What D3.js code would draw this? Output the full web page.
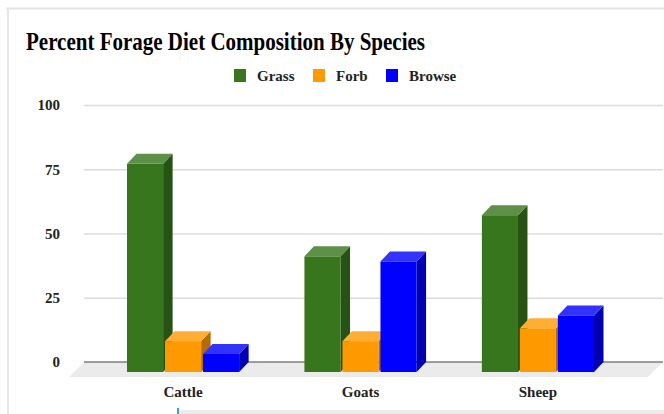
<!DOCTYPE html>
<html>
<head>
<meta charset="utf-8">
<script src="https://cdnjs.cloudflare.com/ajax/libs/d3/7.8.5/d3.min.js"></script>
<style>
  body { margin: 0; background: #fff; }
  svg { display: block; }
  text { font-family: "Liberation Serif", "DejaVu Serif", serif; font-weight: bold; fill: #222; }
</style>
</head>
<body>
<script>
// data
var categories = ["Cattle", "Goats", "Sheep"];
var seriesNames = ["Grass", "Forb", "Browse"];
var grass = [81, 45, 61];
var forb = [12, 12, 17];
var browse = [7, 43, 22];
var yTicks = [0, 25, 50, 75, 100];

var values = [grass, forb, browse];
var colors = {
  Grass:  {front: "#38761d", top: "#5e9048", side: "#265214"},
  Forb:   {front: "#ff9900", top: "#ffad33", side: "#b36b00"},
  Browse: {front: "#0000ff", top: "#3333ff", side: "#0000b0"}
};

var W = 664, H = 414;
var svg = d3.select("body").append("svg")
    .attr("width", W)
    .attr("height", H);

// page frame
svg.append("line").attr("x1", 6).attr("x2", W).attr("y1", 8.5).attr("y2", 8.5)
    .attr("stroke", "#e3e3e3").attr("stroke-width", 2);
svg.append("line").attr("x1", 8).attr("x2", 8).attr("y1", 8).attr("y2", H)
    .attr("stroke", "#e6e6e6").attr("stroke-width", 2);
svg.append("rect").attr("x", 180).attr("y", 410).attr("width", W - 180).attr("height", 4)
    .attr("fill", "#ececec");
svg.append("rect").attr("x", 177).attr("y", 408).attr("width", 2).attr("height", 6)
    .attr("fill", "#3aa0e0");

// title
svg.append("text")
    .attr("x", 26).attr("y", 50)
    .attr("font-size", 25)
    .attr("textLength", 399).attr("lengthAdjust", "spacingAndGlyphs")
    .style("fill", "#000")
    .text("Percent Forage Diet Composition By Species");

// legend
var legendX = [234, 313, 386];
var legend = svg.selectAll(".legend")
    .data(seriesNames)
  .enter().append("g")
    .attr("class", "legend")
    .attr("transform", function(d, i) { return "translate(" + legendX[i] + ",69)"; });
legend.append("rect")
    .attr("width", 12).attr("height", 13)
    .attr("fill", function(d) { return colors[d].front; });
legend.append("text")
    .attr("x", 23).attr("y", 12)
    .attr("font-size", 15)
    .text(function(d) { return d; });

// scales (back wall plane)
var wallLeft = 84, wallRight = 663;
var y = d3.scaleLinear().domain([0, 100]).range([362, 105]);
var x0 = d3.scaleBand().domain(categories).range([127, 594]).paddingInner(0.368).paddingOuter(0);
var x1 = d3.scaleBand().domain(seriesNames).range([0, x0.bandwidth()]).paddingInner(0.05);

var depthX = 9.5, depthY = 10;   // bar depth
var floorD = 15;                 // floor depth

// floor
svg.append("polygon")
    .attr("points", [[wallLeft, y(0)], [wallRight, y(0)], [wallRight - floorD, y(0) + floorD], [wallLeft - floorD, y(0) + floorD]].join(" "))
    .attr("fill", "#ebebeb");

// gridlines
svg.append("g")
    .attr("transform", "translate(" + wallLeft + ",0)")
    .call(d3.axisLeft(y).tickValues(yTicks.slice(1)).tickSize(-(wallRight - wallLeft)).tickFormat(""))
    .call(function(g) {
      g.select(".domain").remove();
      g.selectAll("line").attr("stroke", "#dcdcdc").attr("stroke-width", 1.5);
    });
svg.append("line")
    .attr("x1", wallLeft).attr("x2", wallRight)
    .attr("y1", y(0)).attr("y2", y(0))
    .attr("stroke", "#444").attr("stroke-width", 1.2);

// y labels
svg.append("g")
    .selectAll("text")
    .data(yTicks)
  .enter().append("text")
    .attr("x", 60)
    .attr("y", function(d) { return y(d); })
    .attr("dy", "0.35em")
    .attr("text-anchor", "end")
    .attr("font-size", 15)
    .text(function(d) { return d; });

// bars (front face is shifted down/left from the wall)
var bars = [];
categories.forEach(function(c, ci) {
  seriesNames.forEach(function(s, si) {
    bars.push({cat: c, series: s, value: values[si][ci]});
  });
});

var g = svg.append("g");
bars.forEach(function(d) {
  var x = x0(d.cat) + x1(d.series);
  var w = x1.bandwidth();
  var top = y(d.value) + depthY;
  var bottom = y(0) + depthY;
  var col = colors[d.series];
  var bar = g.append("g");
  bar.append("polygon")
      .attr("points", [[x + w, top], [x + w + depthX, top - depthY], [x + w + depthX, bottom - depthY], [x + w, bottom]].join(" "))
      .attr("fill", col.side);
  bar.append("polygon")
      .attr("points", [[x, top], [x + w, top], [x + w + depthX, top - depthY], [x + depthX, top - depthY]].join(" "))
      .attr("fill", col.top);
  bar.append("rect")
      .attr("x", x).attr("y", top)
      .attr("width", w).attr("height", bottom - top)
      .attr("fill", col.front);
});

// x labels
svg.append("g")
    .selectAll("text")
    .data(categories)
  .enter().append("text")
    .attr("x", function(d) { return x0(d) + x0.bandwidth() / 2; })
    .attr("y", 397)
    .attr("text-anchor", "middle")
    .attr("font-size", 15)
    .text(function(d) { return d; });
</script>
</body>
</html>
